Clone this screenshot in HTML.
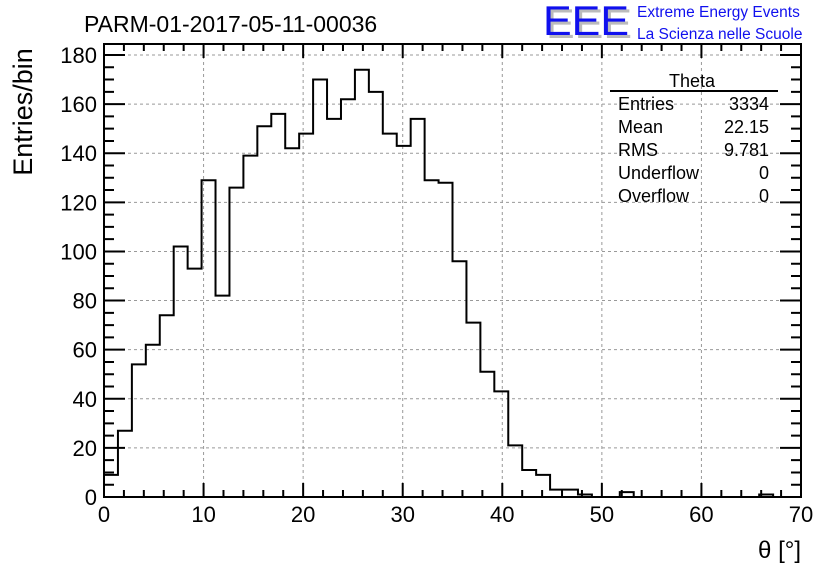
<!DOCTYPE html>
<html><head><meta charset="utf-8"><style>
body{margin:0;background:#fff;}
svg{display:block;font-family:"Liberation Sans",sans-serif;}
</style></head><body>
<svg id="chart" width="836" height="572" viewBox="0 0 836 572">
<rect width="836" height="572" fill="#fff"/>
<text x="84" y="32" font-size="23">PARM-01-2017-05-11-00036</text>
<g>
<text x="546" y="38" font-size="42" fill="#bbb" textLength="86" lengthAdjust="spacingAndGlyphs">EEE</text>
<text x="543" y="35" font-size="42" fill="#1010ee" textLength="86" lengthAdjust="spacingAndGlyphs">EEE</text>
<text x="637" y="17" font-size="15.5" fill="#1010ee">Extreme Energy Events</text>
<text x="637" y="39" font-size="15.5" fill="#1010ee">La Scienza nelle Scuole</text>
</g>
<g id="grid"></g>
<g id="ticks"></g>
<path id="hist" fill="none" stroke="#000" stroke-width="2"/>
<rect x="104" y="44" width="697" height="453" fill="none" stroke="#000" stroke-width="2"/>
<g id="labels"></g>
<text x="32" y="112" font-size="27" transform="rotate(-90 32 112)" text-anchor="middle">Entries/bin</text>
<text x="801" y="558" font-size="24" text-anchor="end">θ [°]</text>
<g font-size="18">
<text x="692" y="87" text-anchor="middle">Theta</text>
<line x1="610" y1="91" x2="778" y2="91" stroke="#000" stroke-width="2"/>
<text x="618" y="110">Entries</text><text x="769" y="110" text-anchor="end">3334</text>
<text x="618" y="133">Mean</text><text x="769" y="133" text-anchor="end">22.15</text>
<text x="618" y="156">RMS</text><text x="769" y="156" text-anchor="end">9.781</text>
<text x="618" y="179">Underflow</text><text x="769" y="179" text-anchor="end">0</text>
<text x="618" y="202">Overflow</text><text x="769" y="202" text-anchor="end">0</text>
</g>
</svg>
<script>
const binWidth = 1.4;
const counts = [9,27,54,62,74,102,93,129,82,126,139,151,156,142,148,170,154,162,174,165,148,143,154,129,128,96,71,51,43,21,11,9,3,3,1,0,0,2,0,0,0,0,0,0,0,0,0,1,0,0];
const xTicks = [0,10,20,30,40,50,60,70];
const yTicks = [0,20,40,60,80,100,120,140,160,180];
const NS="http://www.w3.org/2000/svg";
const X0=104,X1=801,Y0=497,Y180=55;
const sx=v=>X0+(v-0)*(X1-X0)/70;
const sy=v=>Y0-v*(Y0-Y180)/180;
function mk(tag,attrs,parent){const e=document.createElementNS(NS,tag);for(const k in attrs)e.setAttribute(k,attrs[k]);parent.appendChild(e);return e;}
const grid=document.getElementById('grid'),ticks=document.getElementById('ticks'),labels=document.getElementById('labels');
xTicks.forEach(t=>{
  if(t>0&&t<70){const l=mk('line',{x1:sx(t),x2:sx(t),y1:44,y2:497,stroke:'#999','stroke-dasharray':'3,3'},grid);
  
  }
  const tx=mk('text',{x:sx(t),y:522,'font-size':22,'text-anchor':'middle'},labels);tx.textContent=t;
  
  
});
yTicks.forEach(t=>{
  if(t>0){const l=mk('line',{x1:104,x2:801,y1:sy(t),y2:sy(t),stroke:'#999','stroke-dasharray':'3,3'},grid);
  
  }
  const tx=mk('text',{x:97,y:sy(t)+8,'font-size':22,'text-anchor':'end'},labels);tx.textContent=t;
  
  
});
let d='';
for(let v=0;v<=70;v+=2){const x=sx(v),L=(v%10===0)?14:7;d+=`M${x},497v${-L}M${x},44v${L}`;}
for(let v=0;v<=180;v+=5){const y=sy(v),L=(v%20===0)?21:10;d+=`M104,${y}h${L}M801,${y}h${-L}`;}
mk('path',{d:d,stroke:'#000','stroke-width':2,fill:'none'},ticks);
let p=`M${sx(0)},${sy(0)}`;
counts.forEach((c,i)=>{p+=`L${sx(i*binWidth)},${sy(c)}L${sx((i+1)*binWidth)},${sy(c)}`;});
p+=`L${sx(counts.length*binWidth)},${sy(0)}`;
document.getElementById('hist').setAttribute('d',p);
</script>
</body></html>
